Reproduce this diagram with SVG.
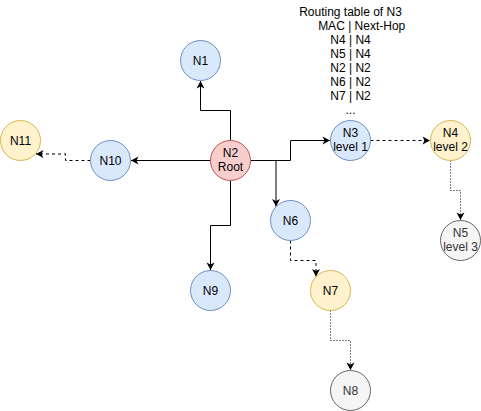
<svg xmlns="http://www.w3.org/2000/svg" width="481" height="411" viewBox="0 0 481 411">
<style>
text{font-family:"Liberation Sans",Arial,sans-serif;font-size:12px;text-anchor:middle;fill:#000}
.blue{fill:#dae8fc;stroke:#6c8ebf}
.red{fill:#f8cecc;stroke:#b85450}
.yellow{fill:#fff2cc;stroke:#d6b656}
.gray{fill:#f5f5f5;stroke:#666666}
.gtext{fill:#333333}
.edge{fill:none;stroke:#000;stroke-width:1;marker-end:url(#arrow)}
.dashed{stroke-dasharray:3 3}
.dotted{stroke-dasharray:1 2}
</style>
<defs>
<marker id="arrow" viewBox="-8 -5 9 10" refX="0" refY="0" markerWidth="9" markerHeight="10" markerUnits="userSpaceOnUse" orient="auto">
<path d="M0,0 L-7.5,-4 L-5.5,0 L-7.5,4 Z" fill="#000" stroke="none"/>
</marker>
</defs>
<rect width="481" height="411" fill="#fff"/>
<g id="connectors">
<path class="edge" d="M230.5,140.5 L230.5,110.5 L200.5,110.5 L200.5,81"/>
<path class="edge" d="M210.5,160.5 L131,160.5"/>
<path class="edge dashed" d="M90.5,160.5 L65.5,160.5 L65.5,154 L36,154"/>
<path class="edge" d="M250.5,160.5 L290.5,160.5 L290.5,140.5 L330,140.5"/>
<path class="edge" d="M276,160.5 L276,206.5"/>
<path class="edge" d="M230.5,180.5 L230.5,225.5 L210.5,225.5 L210.5,270"/>
<path class="edge dashed" d="M370.5,140.5 L430,140.5"/>
<path class="edge dotted" d="M450.5,160.5 L450.5,190.5 L460.5,190.5 L460.5,220"/>
<path class="edge dashed" d="M290.5,240.5 L290.5,260.5 L316,260.5 L316,276.5"/>
<path class="edge dotted" d="M330.5,310.5 L330.5,340.5 L350.5,340.5 L350.5,370"/>
</g>
<g id="routing-table">
<text x="350.5" y="16">Routing table of N3</text>
<text x="361.7" y="30">MAC | Next-Hop</text>
<text x="350.5" y="44">N4 | N4</text>
<text x="350.5" y="58">N5 | N4</text>
<text x="350.5" y="72">N2 | N2</text>
<text x="350.5" y="86">N6 | N2</text>
<text x="350.5" y="100">N7 | N2</text>
<text x="350.5" y="114">...</text>
</g>
<g id="N1"><circle class="blue" cx="200.5" cy="60.5" r="20"/><text x="200.5" y="64.8">N1</text></g>
<g id="N2"><circle class="red" cx="230.5" cy="160.5" r="20"/><text x="230.5" y="157">N2</text><text x="230.5" y="171">Root</text></g>
<g id="N3"><circle class="blue" cx="350.5" cy="140.5" r="20"/><text x="350.5" y="137">N3</text><text x="350.5" y="151">level 1</text></g>
<g id="N4"><circle class="yellow" cx="450.5" cy="140.5" r="20"/><text x="450.5" y="137">N4</text><text x="450.5" y="151">level 2</text></g>
<g id="N5"><circle class="gray" cx="460.5" cy="240.5" r="20"/><text class="gtext" x="460.5" y="237">N5</text><text class="gtext" x="460.5" y="251">level 3</text></g>
<g id="N6"><circle class="blue" cx="290.5" cy="220.5" r="20"/><text x="290.5" y="224.8">N6</text></g>
<g id="N7"><circle class="yellow" cx="330.5" cy="290.5" r="20"/><text x="330.5" y="294.8">N7</text></g>
<g id="N8"><circle class="gray" cx="350.5" cy="390.5" r="20"/><text class="gtext" x="350.5" y="394.8">N8</text></g>
<g id="N9"><circle class="blue" cx="210.5" cy="290.5" r="20"/><text x="210.5" y="294.8">N9</text></g>
<g id="N10"><circle class="blue" cx="110.5" cy="160.5" r="20"/><text x="110.5" y="164.8">N10</text></g>
<g id="N11"><circle class="yellow" cx="20.5" cy="140.5" r="20"/><text x="20.5" y="144.8">N11</text></g>
</svg>
